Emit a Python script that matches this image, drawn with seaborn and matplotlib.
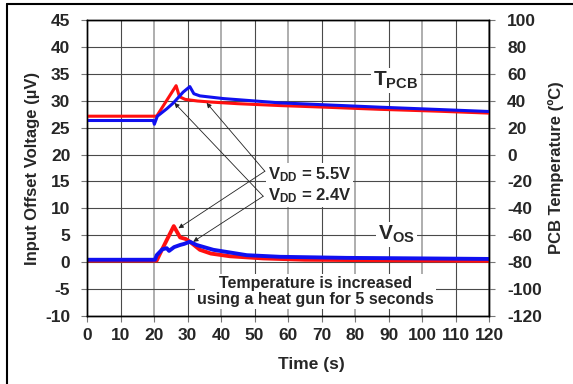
import matplotlib
matplotlib.use("Agg")
import matplotlib.pyplot as plt
import seaborn as sns
from matplotlib.lines import Line2D

# ---------------- data ----------------
x_ticks = list(range(0, 121, 10))
left_ticks = list(range(-10, 46, 5))
right_ticks = list(range(-120, 101, 20))

# PCB temperature (degC), right axis
t_red_time = [0, 20.8, 26.6, 27.6, 29.3, 33.0, 37.0, 45.0, 57.6, 70.0, 87.5, 105.0, 120.0]
t_red_temp = [28.5, 28.5, 51.2, 43.0, 41.0, 39.8, 39.0, 37.8, 36.4, 35.3, 33.6, 32.2, 30.8]

t_blue_time = [0, 19.8, 20.1, 21.0, 23.8, 25.8, 28.7, 30.7, 31.9, 33.7, 40.7, 57.6, 87.5, 120.0]
t_blue_temp = [25.3, 25.3, 22.5, 28.5, 34.0, 38.4, 46.4, 50.5, 45.2, 43.6, 41.6, 38.4, 35.2, 32.0]

# Input offset voltage (uV), left axis
v_red_time = [0, 20.8, 21.8, 23.8, 25.9, 27.8, 29.5, 30.7, 33.7, 37.0, 42.7, 52.6, 65.0, 90.0, 120.0]
v_red_val = [0.3, 0.3, 1.6, 4.1, 6.7, 4.6, 4.3, 3.8, 2.3, 1.6, 1.1, 0.7, 0.45, 0.35, 0.25]

v_blue_time = [0, 20.3, 20.8, 22.5, 23.8, 24.5, 26.0, 27.8, 29.0, 30.7, 32.7, 37.7, 47.7, 57.6, 77.5, 100.0, 120.0]
v_blue_val = [0.45, 0.45, 1.3, 2.4, 2.6, 2.1, 2.8, 3.2, 3.4, 3.8, 3.2, 2.3, 1.3, 1.0, 0.8, 0.7, 0.6]

# ---------------- style ----------------
sns.set_theme(style="white")
plt.rcParams["font.family"] = ["Liberation Sans", "DejaVu Sans"]
plt.rcParams["font.weight"] = "bold"
plt.rcParams["axes.unicode_minus"] = False
plt.rcParams["mathtext.fontset"] = "custom"
plt.rcParams["mathtext.rm"] = "Liberation Sans:bold"
plt.rcParams["mathtext.bf"] = "Liberation Sans:bold"
plt.rcParams["mathtext.it"] = "Liberation Sans:bold"
plt.rcParams["mathtext.default"] = "bf"

RED = "#ff1010"
BLUE = "#1010f0"

W, H = 573, 384
fig = plt.figure(figsize=(W / 100, H / 100), dpi=100)
L, R, T, B = 87, 489, 20, 316
ax = fig.add_axes([L / W, 1 - B / H, (R - L) / W, (B - T) / H])
ax2 = ax.twinx()

ax.set_xlim(0, 120)
ax.set_ylim(-10, 45)
ax2.set_ylim(-120, 100)
ax.set_xticks(x_ticks)
ax.set_yticks(left_ticks)
ax2.set_yticks(right_ticks)

ax.grid(True, color="#4a4a4a", lw=0.8)
for gl, tk in zip(ax.xaxis.get_gridlines(), x_ticks):
    if tk % 20 == 0:
        gl.set_color("#a8a8a8")
        gl.set_linewidth(1.3)
ax2.grid(False)

# ---------------- lines ----------------
sns.lineplot(x=v_red_time, y=v_red_val, ax=ax, color=RED, lw=2.8,
             estimator=None, sort=False)
sns.lineplot(x=v_blue_time, y=v_blue_val, ax=ax, color=BLUE, lw=2.8,
             estimator=None, sort=False)
sns.lineplot(x=t_red_time, y=t_red_temp, ax=ax2, color=RED, lw=2.2,
             estimator=None, sort=False)
sns.lineplot(x=t_blue_time, y=t_blue_temp, ax=ax2, color=BLUE, lw=2.2,
             estimator=None, sort=False)

ax.set_xlabel("")
ax.set_ylabel("")
ax2.set_ylabel("")

for a in (ax, ax2):
    for s in a.spines.values():
        s.set_color("black")
        s.set_linewidth(1.0)
ax.tick_params(axis="x", direction="out", length=4, width=0.8, color="#777",
               labelsize=12.5, pad=5, bottom=True)
ax.tick_params(axis="y", direction="out", length=4, width=0.8, color="#777",
               labelsize=12.5, pad=8, left=True)
ax2.tick_params(axis="y", direction="out", length=4, width=0.8, color="#777",
                labelsize=12.5, pad=9, right=True)

# ---------------- axis labels ----------------
fig.text(311 / W, 1 - 365 / H, "Time (s)", ha="center", va="center", fontsize=12.5)
fig.text(33 / W, 1 - 168 / H, "Input Offset Voltage (\u00b5V)", ha="center",
         va="center", rotation=90, fontsize=12)
fig.text(556 / W, 1 - 168 / H, "PCB Temperature (\u00baC)", ha="center",
         va="center", rotation=90, fontsize=12)

# ---------------- annotations ----------------
arrow_kw = dict(arrowstyle="-|>", lw=0.6, color="#222", mutation_scale=7,
                shrinkA=0, shrinkB=0)
tail_55 = (53.1, 16.9)
tail_24 = (52.6, 12.25)
for tail, tgt in [(tail_55, (35.7, 29.6)), (tail_55, (27.3, 6.3)),
                  (tail_24, (26.1, 29.6)), (tail_24, (31.7, 3.8))]:
    ax2.annotate("", xy=tgt, xytext=tail, xycoords=ax.transData,
                 textcoords=ax.transData, arrowprops=arrow_kw, zorder=4)

box = dict(facecolor="white", edgecolor="none", pad=1.5)
ax2.text(54.0, 16.3, "V$_{DD}$ = 5.5V", transform=ax.transData, ha="left",
         va="center", fontsize=12, bbox=box, zorder=5)
ax2.text(54.0, 12.3, "V$_{DD}$ = 2.4V", transform=ax.transData, ha="left",
         va="center", fontsize=12, bbox=box, zorder=5)
ax2.text(85.4, 32.8, "T$_{PCB}$", transform=ax.transData, ha="left",
         va="baseline", fontsize=15, bbox=box, zorder=5)
ax2.text(86.9, 4.1, "V$_{OS}$", transform=ax.transData, ha="left",
         va="baseline", fontsize=15, bbox=box, zorder=5)
ax2.text(68.1, -5.4, "Temperature is increased\nusing a heat gun for 5 seconds",
         transform=ax.transData, ha="center", va="center", fontsize=11.5,
         linespacing=1.1, bbox=box, zorder=5)

# ---------------- frame (left and top edges) ----------------
fig.add_artist(Line2D([7 / W, 7 / W], [0, 1 - 3.7 / H], transform=fig.transFigure,
                      color="black", lw=1.5))
fig.add_artist(Line2D([7 / W, 1], [1 - 3.7 / H, 1 - 3.7 / H], transform=fig.transFigure,
                      color="black", lw=1.5))

fig.savefig("out.png", dpi=100)
